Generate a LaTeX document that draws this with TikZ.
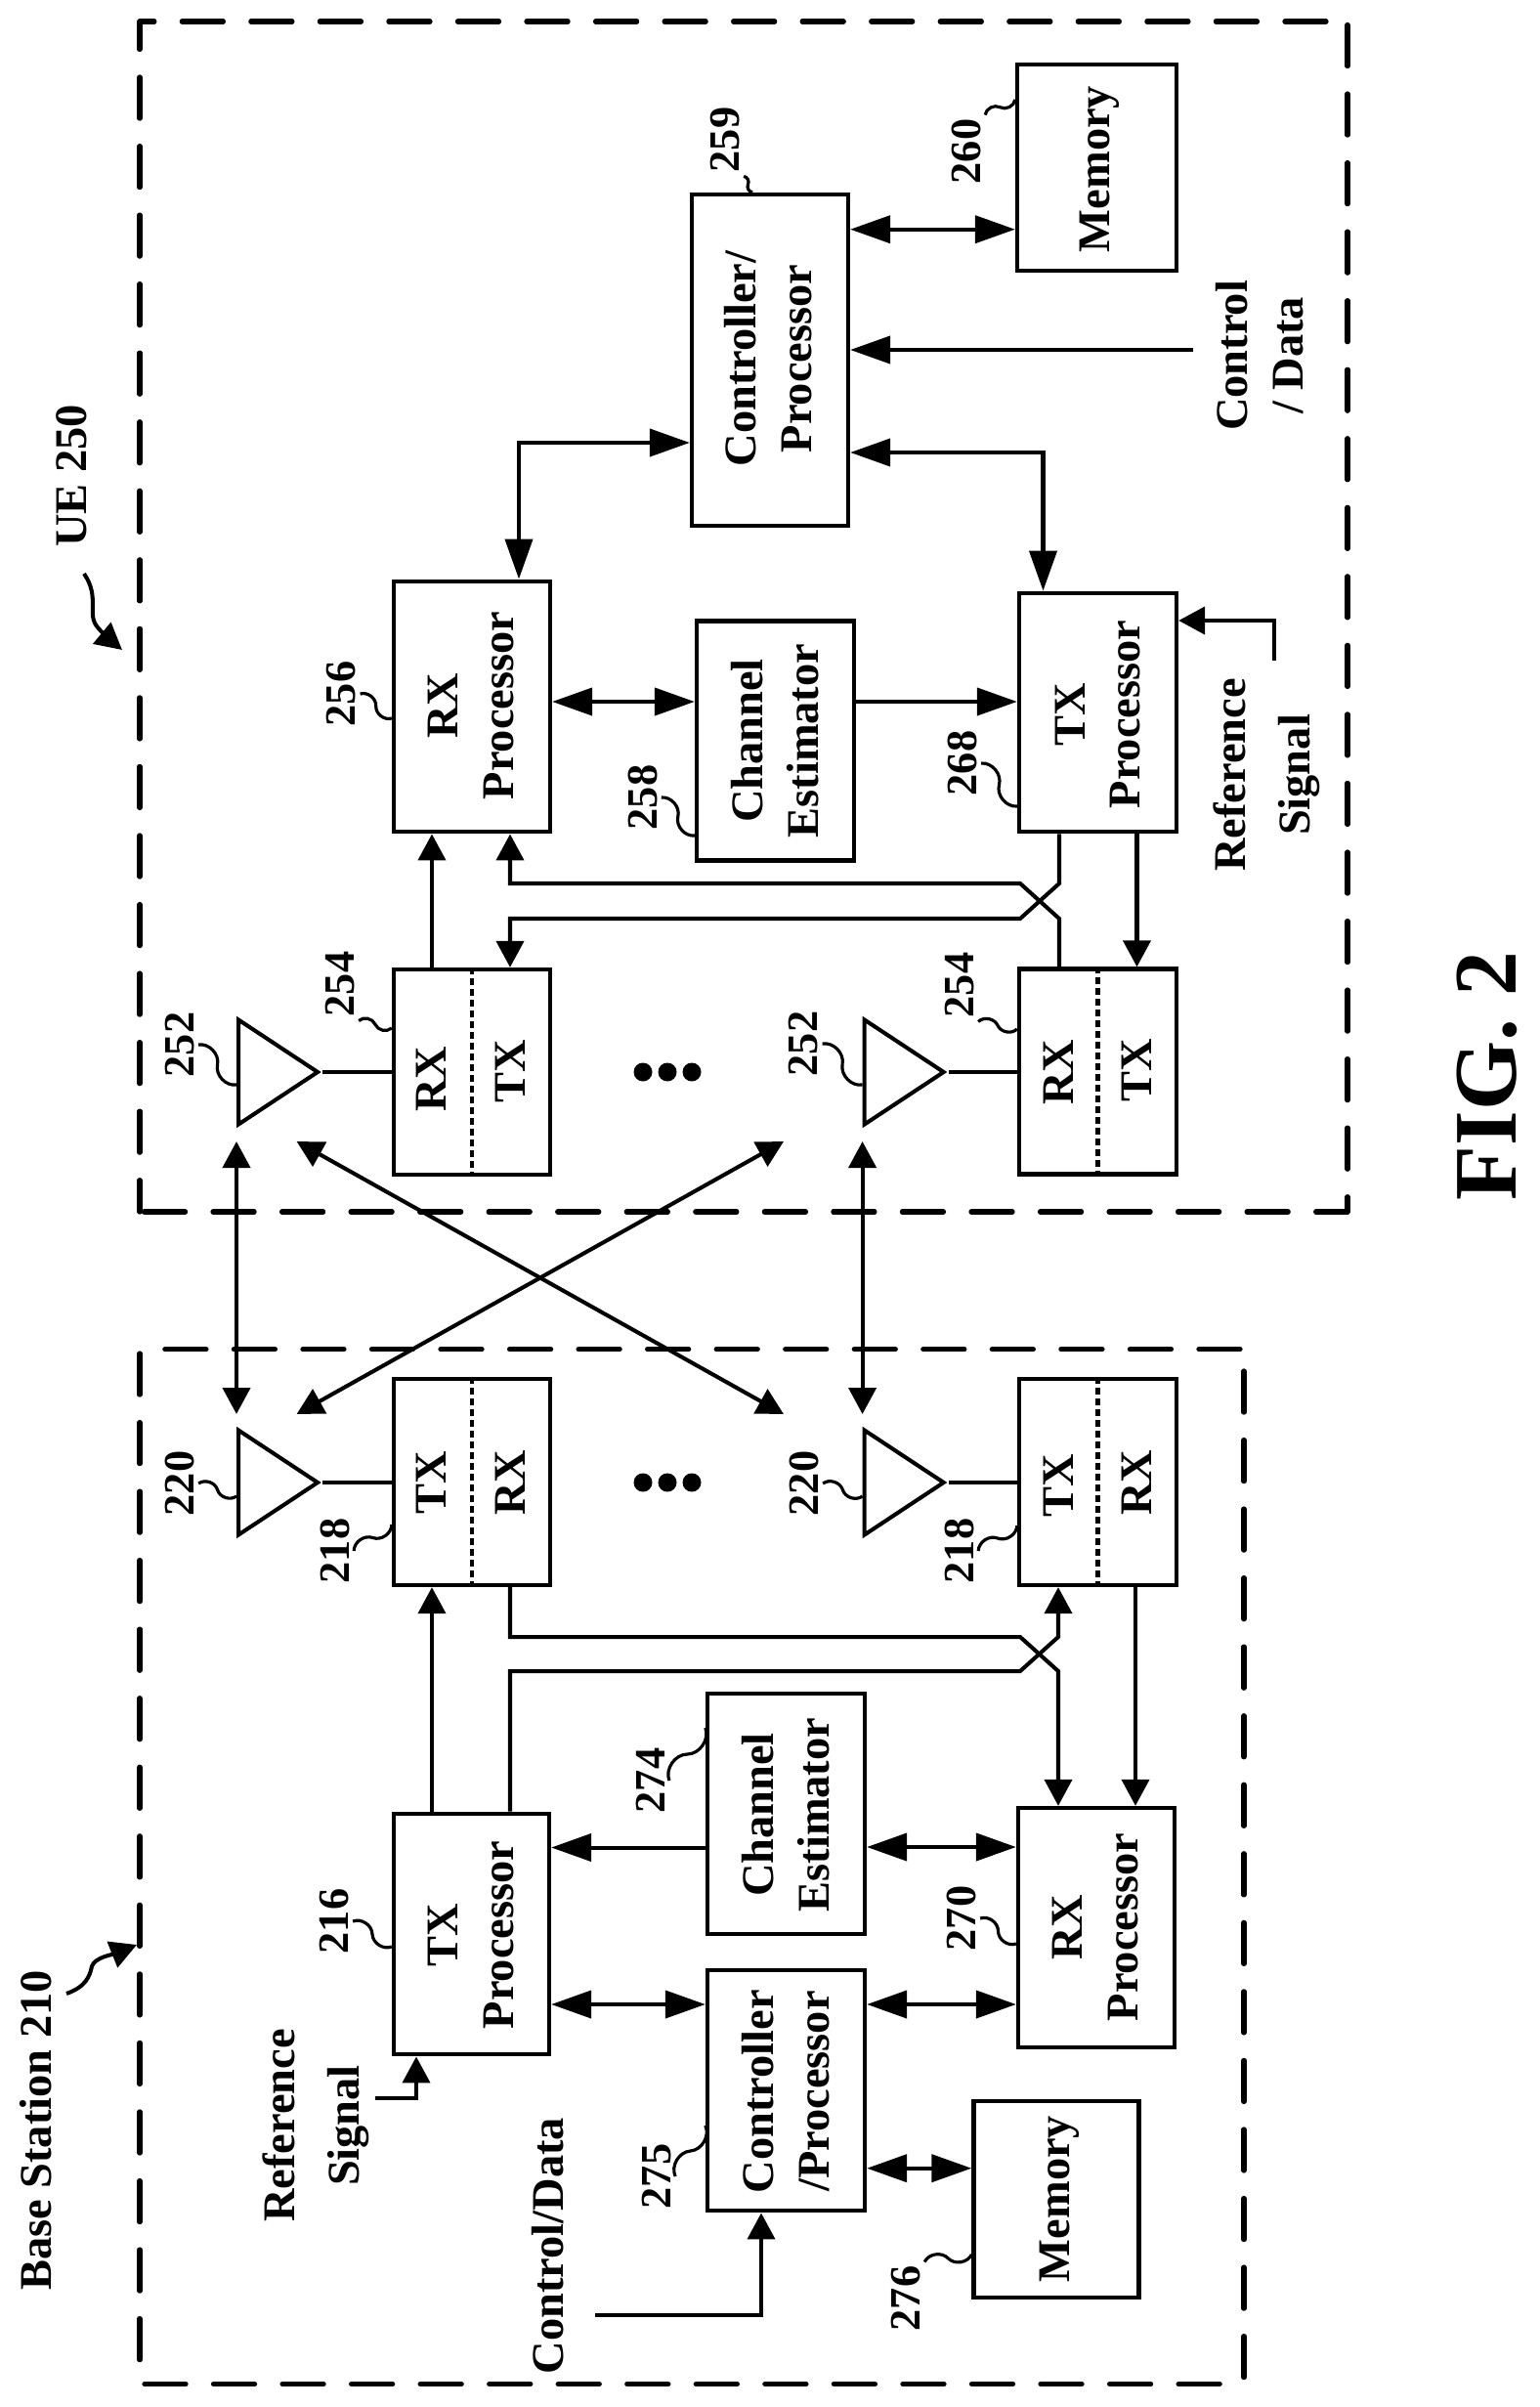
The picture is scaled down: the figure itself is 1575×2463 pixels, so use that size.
\documentclass[tikz,border=0pt]{standalone}
\usepackage{fontspec}
\setmainfont{Liberation Serif}
\usetikzlibrary{arrows.meta,shapes.geometric,calc}

\tikzset{
  bigtip/.tip={Triangle[length=4.1mm,width=2.8mm]},
  smalltip/.tip={Triangle[length=2.7mm,width=2.8mm]},
  block/.style={draw,line width=1.2pt,inner sep=0},
  wire/.style={line width=1.15pt},
  outline/.style={line width=1.5pt,line cap=round,dash pattern=on 0.42cm off 0.285cm},
  divider/.style={line width=1.2pt,dash pattern=on 0.07cm off 0.04cm},
  lbl/.style={rotate=90,align=center,inner sep=0,font=\fontsize{13.2}{16.2}\selectfont\bfseries},
  numlbl/.style={rotate=90,inner sep=1pt,font=\fontsize{12.6}{15}\selectfont\bfseries},
  lead/.style={line width=.9pt},
  ant/.style={draw,line width=1.15pt,isosceles triangle,isosceles triangle stretches,
    shape border rotate=0,minimum width=1.07cm,minimum height=.81cm,inner sep=0,anchor=west},
  dot/.style={circle,fill=black,inner sep=0,minimum size=.19cm},
}
\newcommand{\tick}[2]{\draw[lead] (#1) to[bend left=55] ($(#1)!.5!(#2)$) to[bend right=55] (#2);}

\begin{document}
\begin{tikzpicture}[x=.01cm,y=-.01cm]
\useasboundingbox (0,0) rectangle (1575,2463);

% UE side
\draw[outline] (1357,22)--(143,22);
\draw[outline,dash phase=.135cm] (143,22)--(143,1240);
\draw[outline] (147.5,1240)--(1379,1240);
\draw[outline] (1379,25.5)--(1379,1240);
\node[lbl] (ueName) at (73,487) {UE 250};
\draw[wire,-{smalltip}] (86,587) .. controls (103,612) and (88,628) .. (100,642) .. controls (104,647) and (113,655) .. (125,665);

\node[block,minimum width=1.60cm,minimum height=3.39cm] (ctrlU) at (788,368.5) {};
\node[lbl] (ctrlUtxt) at (786,367) {Controller/\\Processor};
\node[block,minimum width=1.63cm,minimum height=2.11cm] (memU) at (1122.5,171.5) {};
\node[lbl] (memUtxt) at (1125,173) {Memory};
\node[block,minimum width=1.60cm,minimum height=2.565cm] (rxpU) at (483,723) {};
\node[lbl] (rxpUtxt) at (482,722) {RX\\Processor};
\node[block,minimum width=1.61cm,minimum height=2.45cm] (chestU) at (793.5,758) {};
\node[lbl] (chestUtxt) at (793,758) {Channel\\Estimator};
\node[block,minimum width=1.61cm,minimum height=2.445cm] (txpU) at (1123.5,729) {};
\node[lbl] (txpUtxt) at (1123.5,731) {TX\\Processor};

\node[block,minimum width=1.60cm,minimum height=2.10cm] (trxU1) at (483,1097) {};
\node[lbl] (trxU1a) at (441,1104) {RX};
\node[lbl] (trxU1b) at (522,1096) {TX};
\draw[divider] (trxU1.north)--(trxU1.south);
\node[block,minimum width=1.61cm,minimum height=2.10cm] (trxU2) at (1123.5,1096.5) {};
\node[lbl] (trxU2a) at (1083,1097) {RX};
\node[lbl] (trxU2b) at (1163,1095) {TX};
\draw[divider] (trxU2.north)--(trxU2.south);

\node[ant] (antU1) at (242,1097) {};
\node[ant] (antU2) at (882.6,1097) {};
\draw[wire] (antU1.east)--(antU1.east -| trxU1.west);
\draw[wire] (antU2.east)--(antU2.east -| trxU2.west);
\foreach \x in {658,683,708} \node[dot] (dotU\x) at (\x,1097) {};

% reference numbers, UE side
\node[numlbl] (n259) at (742,143) {259};
\tick{770,0 |- ctrlU.north}{n259.south west}
\node[numlbl] (n260) at (989,155) {260};
\tick{memU.west |- 0,102}{n260.south east}
\node[numlbl] (n256) at (349.5,710) {256};
\tick{rxpU.west |- 0,735}{n256.south}
\node[numlbl] (n258) at (657.6,816) {258};
\tick{chestU.west |- 0,855}{n258.south}
\node[numlbl] (n268) at (985,781) {268};
\tick{txpU.west |- 0,825}{n268.south}
\node[numlbl] (n254a) at (348,1007) {254};
\tick{trxU1.west |- 0,1052}{n254a.south west}
\node[numlbl] (n254b) at (982,1008) {254};
\tick{trxU2.west |- 0,1053}{n254b.south west}
\node[numlbl] (n252a) at (184,1069) {252};
\tick{antU1.west |- 0,1110}{n252a.south}
\node[numlbl] (n252b) at (822.5,1068) {252};
\tick{antU2.west |- 0,1110}{n252b.south}

% connectors, UE side
\draw[wire,{bigtip}-{bigtip}] (ctrlU.east |- 0,234.7)--(memU.west |- 0,234.7);
\coordinate (ctrlInU) at (1221,358);
\draw[wire,-{bigtip}] (ctrlInU)--(ctrlInU -| ctrlU.east);
\draw[wire,{bigtip}-{bigtip}] (ctrlU.east |- 0,463)--(1067.5,463)--(1067.5,0 |- txpU.north);
\draw[wire,{bigtip}-{bigtip}] (ctrlU.west |- 0,453)--(531,453)--(531,0 |- rxpU.north);
\draw[wire,{bigtip}-{bigtip}] (rxpU.east |- 0,718)--(chestU.west |- 0,718);
\draw[wire,-{bigtip}] (chestU.east |- 0,718)--(txpU.west |- 0,718);
\coordinate (refInU) at (1304,676);
\draw[wire,-{smalltip}] (refInU)--(1304,635)--(txpU.east |- 0,635);
\node[lbl] (refUtxt) at (1296,793) {Reference\\[2.5pt]Signal};
\node[lbl] (ctrlInUtxt) at (1289,364) {Control\\/ Data};

\draw[wire,-{smalltip}] (442,0 |- trxU1.north)--(442,0 |- rxpU.south);
\draw[wire,-{smalltip}] (1084,0 |- trxU2.north)--(1084,940)--(1044,904)--(522,904)--(522,0 |- rxpU.south);
\draw[wire,-{smalltip}] (1084,0 |- txpU.south)--(1084,904)--(1044,940)--(522,940)--(522,0 |- trxU1.north);
\draw[wire,-{smalltip}] (1163.5,0 |- txpU.south)--(1163.5,0 |- trxU2.north);

% Base station side
\draw[outline] (1269,1380.7)--(164,1380.7);
\draw[outline] (143,1385)--(143,2417);
\draw[outline] (148,2439.5)--(1252,2439.5);
\draw[outline] (1273,1403)--(1273,2436);
\node[lbl] (bsName) at (37,2180) {Base Station 210};
\draw[wire,-{smalltip}] (68,2040) .. controls (88,2033) and (92,2022) .. (94,2012) .. controls (97,2003) and (115,2000) .. (140,1990);

\node[block,minimum width=1.60cm,minimum height=2.11cm] (trxB1) at (483,1516.5) {};
\node[lbl] (trxB1a) at (441,1517) {TX};
\node[lbl] (trxB1b) at (522,1517) {RX};
\draw[divider] (trxB1.north)--(trxB1.south);
\node[block,minimum width=1.61cm,minimum height=2.11cm] (trxB2) at (1123.5,1516.5) {};
\node[lbl] (trxB2a) at (1083,1520) {TX};
\node[lbl] (trxB2b) at (1163,1517) {RX};
\draw[divider] (trxB2.north)--(trxB2.south);

\node[ant] (antB1) at (242,1517) {};
\node[ant] (antB2) at (882.6,1517) {};
\draw[wire] (antB1.east)--(antB1.east -| trxB1.west);
\draw[wire] (antB2.east)--(antB2.east -| trxB2.west);
\foreach \x in {658,683,708} \node[dot] (dotB\x) at (\x,1517) {};

\node[block,minimum width=1.59cm,minimum height=2.465cm] (txpB) at (482.5,1979) {};
\node[lbl] (txpBtxt) at (482,1980) {TX\\Processor};
\node[block,minimum width=1.61cm,minimum height=2.46cm] (chestB) at (804.5,1856) {};
\node[lbl] (chestBtxt) at (804,1857) {Channel\\Estimator};
\node[block,minimum width=1.61cm,minimum height=2.465cm] (ctrlB) at (804.5,2139) {};
\node[lbl] (ctrlBtxt) at (804,2140) {Controller\\/Processor};
\node[block,minimum width=1.60cm,minimum height=2.45cm] (rxpB) at (1122,1972.5) {};
\node[lbl] (rxpBtxt) at (1121,1972) {RX\\Processor};
\node[block,minimum width=1.69cm,minimum height=2.01cm] (memB) at (1081,2250.5) {};
\node[lbl] (memBtxt) at (1084,2250) {Memory};

% reference numbers, base station side
\node[numlbl] (n220a) at (184,1518) {220};
\tick{antB1.west |- 0,1531}{n220a.south}
\node[numlbl] (n220b) at (823,1518) {220};
\tick{antB2.west |- 0,1531}{n220b.south}
\node[numlbl] (n218a) at (343,1587) {218};
\tick{trxB1.west |- 0,1560}{n218a.south}
\node[numlbl] (n218b) at (982,1587) {218};
\tick{trxB2.west |- 0,1561}{n218b.south}
\node[numlbl] (n216) at (342,1966) {216};
\tick{txpB.west |- 0,1992}{n216.south}
\node[numlbl] (n274) at (666,1822) {274};
\tick{chestB.west |- 0,1768}{n274.south}
\node[numlbl] (n275) at (672,2227) {275};
\tick{ctrlB.west |- 0,2175}{n275.south}
\node[numlbl] (n270) at (984,1963) {270};
\tick{rxpB.west |- 0,1989}{n270.south}
\node[numlbl] (n276) at (927,2352) {276};
\tick{memB.west |- 0,2307}{n276.south east}

% connectors, base station side
\draw[wire,-{bigtip}] (chestB.west |- 0,1890.5)--(txpB.east |- 0,1890.5);
\draw[wire,{bigtip}-{bigtip}] (chestB.east |- 0,1890)--(rxpB.west |- 0,1890);
\draw[wire,{bigtip}-{bigtip}] (txpB.east |- 0,2051)--(ctrlB.west |- 0,2051);
\draw[wire,{bigtip}-{bigtip}] (ctrlB.east |- 0,2051)--(rxpB.west |- 0,2051);
\draw[wire,{bigtip}-{bigtip}] (ctrlB.east |- 0,2218.7)--(memB.west |- 0,2218.7);
\coordinate (ctrlInB) at (609,2369);
\draw[wire,-{smalltip}] (ctrlInB)--(779,2369)--(779,0 |- ctrlB.south);
\coordinate (refInB) at (384,2146.6);
\draw[wire,-{smalltip}] (refInB)--(426,2146.6)--(426,0 |- txpB.south);
\node[lbl] (refBtxt) at (323,2175) {Reference\\[2.5pt]Signal};
\node[lbl] (ctrlInBtxt) at (561,2298) {Control/Data};

\draw[wire,-{smalltip}] (442,0 |- txpB.north)--(442,0 |- trxB1.south);
\draw[wire,-{smalltip}] (522,0 |- txpB.north)--(522,1710)--(1044,1710)--(1083,1675)--(1083,0 |- trxB2.south);
\draw[wire,-{smalltip}] (522,0 |- trxB1.south)--(522,1675)--(1044,1675)--(1083,1710)--(1083,0 |- rxpB.north);
\draw[wire,-{smalltip}] (1162,0 |- trxB2.south)--(1162,0 |- rxpB.north);

% over the air
\coordinate (airU1) at (242,1168);
\coordinate (airB1) at (242,1447);
\coordinate (airU2) at (882.6,1168);
\coordinate (airB2) at (882.6,1447);
\coordinate (airUl) at (303.6,1168);
\coordinate (airUr) at (802,1168);
\coordinate (airBl) at (303.6,1447);
\coordinate (airBr) at (802,1447);
\draw[wire,{smalltip}-{smalltip}] (airU1)--(airB1);
\draw[wire,{smalltip}-{smalltip}] (airU2)--(airB2);
\draw[wire,{smalltip}-{smalltip}] (airUl)--(airBr);
\draw[wire,{smalltip}-{smalltip}] (airUr)--(airBl);

\node[rotate=90,inner sep=0,font=\fontsize{26}{30}\selectfont\bfseries] (figName) at (1522,1101) {FIG. 2};
\end{tikzpicture}
\end{document}
